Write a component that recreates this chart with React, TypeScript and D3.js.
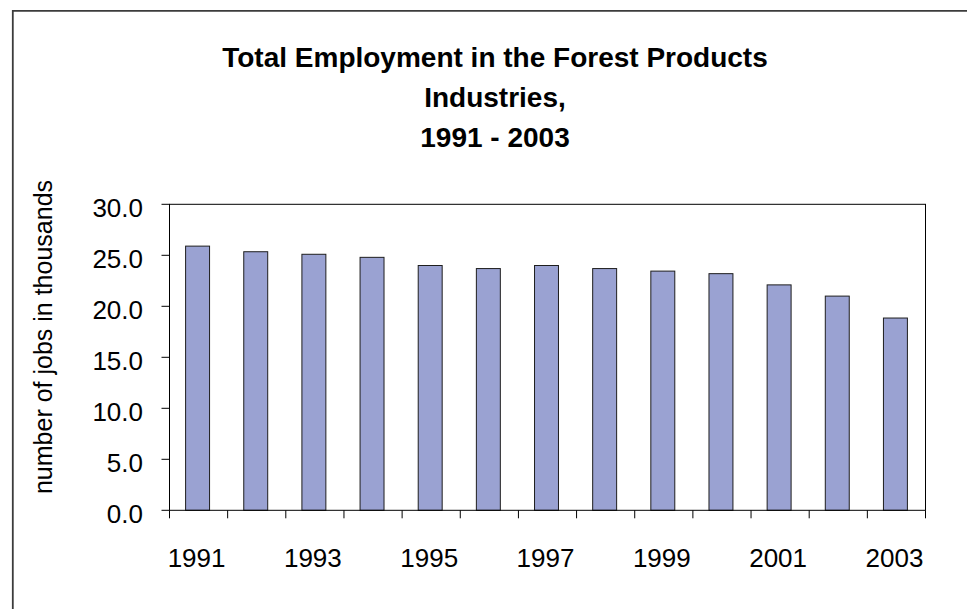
import React from "react";
import * as d3 from "d3";

const years = ["1991","1992","1993","1994","1995","1996","1997","1998","1999","2000","2001","2002","2003"];
const jobs = [25.9, 25.35, 25.1, 24.8, 24.0, 23.7, 24.0, 23.7, 23.45, 23.2, 22.1, 21.0, 18.85];
const yTicks = [0, 5, 10, 15, 20, 25, 30];
const xLabelYears = ["1991","1993","1995","1997","1999","2001","2003"];
const titleLines = ["Total Employment in the Forest Products", "Industries,", "1991 - 2003"];
const yTitle = "number of jobs in thousands";

const W = 967, H = 609;
const plot = { left: 169.5, right: 925.5, top: 204.3, bottom: 510.3 };
const font = "'Liberation Sans', Arial, Helvetica, sans-serif";

export default function App() {
  const x = d3.scaleBand<string>().domain(years).range([plot.left, plot.right]).paddingInner(0.588).paddingOuter(0.294);
  const step = (plot.right - plot.left) / years.length;
  const y = d3.scaleLinear().domain([0, 30]).range([plot.bottom, plot.top]);
  const bounds = d3.range(years.length + 1).map(i => plot.left + i * step);

  return (
    <svg width={W} height={H} style={{ position: "absolute", left: 0, top: 0, background: "#fff" }} fontFamily={font}>
      <rect x={0} y={0} width={W} height={H} fill="#fff" />
      <path d={`M12.8,${H} V10.8 H${W}`} fill="none" stroke="#3c3c3c" strokeWidth={1.8} />
      {titleLines.map((t, i) => (
        <text key={i} x={495} y={67 + i * 40} textAnchor="middle" fontSize={28} fontWeight="bold" fill="#000">{t}</text>
      ))}
      <text transform={`translate(52,337) rotate(-90)`} textAnchor="middle" fontSize={25} fill="#000">{yTitle}</text>
      {years.map((yr, i) => (
        <rect key={yr} x={(x(yr) as number) - 1} y={y(jobs[i])} width={x.bandwidth()} height={plot.bottom - y(jobs[i])}
          fill="#9aa2d2" stroke="#1e1e1e" strokeWidth={1} />
      ))}
      <rect x={plot.left} y={plot.top} width={plot.right - plot.left} height={plot.bottom - plot.top} fill="none" stroke="#000" strokeWidth={1} />
      {yTicks.map(v => (
        <g key={v}>
          <line x1={plot.left - 8} x2={plot.left} y1={y(v)} y2={y(v)} stroke="#000" strokeWidth={1} />
          <text x={143} y={y(v) + 13} textAnchor="end" fontSize={26} fill="#000">{v.toFixed(1)}</text>
        </g>
      ))}
      {bounds.map((b, i) => (
        <line key={i} x1={b} x2={b} y1={plot.bottom} y2={plot.bottom + 8} stroke="#000" strokeWidth={1} />
      ))}
      {xLabelYears.map(yr => (
        <text key={yr} x={(x(yr) as number) + x.bandwidth() / 2 - 2} y={566.5} textAnchor="middle" fontSize={26} fill="#000">{yr}</text>
      ))}
    </svg>
  );
}
